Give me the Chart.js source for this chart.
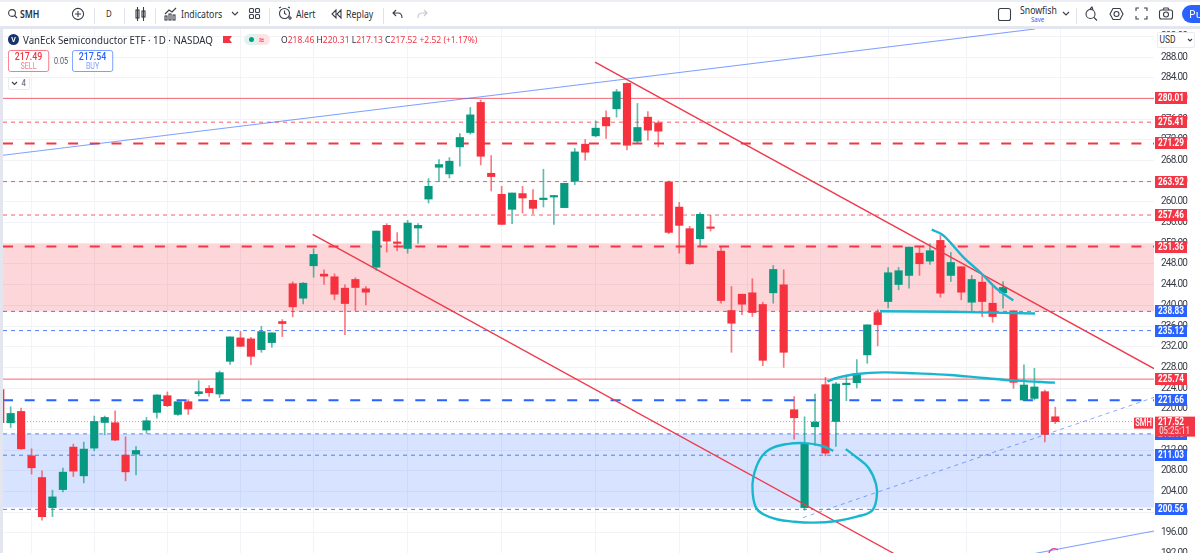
<!DOCTYPE html>
<html>
<head>
<meta charset="utf-8">
<script src="https://cdn.jsdelivr.net/npm/chart.js@4"></script>
<style>
html,body{margin:0;padding:0;background:#fff;width:1200px;height:553px;overflow:hidden;font-family:"Noto Sans",sans-serif;color:#131722}
#c{position:absolute;left:0;top:0}
.ab{position:absolute;white-space:nowrap}
.sq{transform:scaleX(.87);transform-origin:left center}
.nar{font-family:Roboto,sans-serif;transform:scaleX(.84);transform-origin:left center}
#bar{position:absolute;left:0;top:0;width:1200px;height:29px;background:#fff;box-sizing:border-box;border-top:2px solid #eceef3;border-bottom:3px solid #e3e6ee}
#lft{position:absolute;left:0;top:29px;width:3px;height:524px;background:#e3e6ee}
.sep{position:absolute;top:6px;width:1px;height:16px;background:#e0e3eb}
.t{font-size:10px;color:#2a2e39;line-height:14px}
svg{position:absolute;overflow:visible;fill:none;stroke:#3a3e49;stroke-width:1.1}
</style>
</head>
<body>
<canvas id="c" width="1200" height="567"></canvas>
<div id="lft"></div>
<div id="bar">
 <svg style="left:8px;top:7px" width="10" height="10"><circle cx="4" cy="4" r="3.4"/><path d="M6.500 6.500l2.500 2.500"/></svg>
 <div class="ab t sq" style="left:20px;top:5px;font-weight:600">SMH</div>
 <svg style="left:72px;top:6px" width="12" height="12"><circle cx="6" cy="6" r="5.6"/><path d="M3 6h6M6 3v6"/></svg>
 <div class="sep" style="left:94px"></div>
 <div class="ab t sq" style="left:106px;top:5px;font-size:9px">D</div>
 <div class="sep" style="left:124px"></div>
 <svg style="left:135px;top:5px" width="11" height="14"><rect x="1" y="3" width="3" height="8"/><rect x="7" y="4" width="3" height="6"/><path d="M2.500 0v14M8.500 0v14"/></svg>
 <div class="sep" style="left:155px"></div>
 <svg style="left:165px;top:5px" width="12" height="14"><path d="M0 7l4-4 3 2 4-4"/><rect x="0" y="9" width="2" height="4"/><rect x="4" y="7" width="2" height="6"/><rect x="8" y="8" width="2" height="5"/></svg>
 <div class="ab t sq" style="left:181px;top:5px">Indicators</div>
 <svg style="left:232px;top:10px" width="7" height="4"><path d="M0 0l3 3 3-3"/></svg>
 <svg style="left:249px;top:6px" width="11" height="12"><rect x="0.500" y="0.500" width="4" height="4" rx="1"/><rect x="6.500" y="0.500" width="4" height="4" rx="1"/><rect x="0.500" y="6.500" width="4" height="4" rx="1"/><rect x="6.500" y="6.500" width="4" height="4" rx="1"/></svg>
 <div class="sep" style="left:269px"></div>
 <svg style="left:279px;top:5px" width="12" height="14"><circle cx="5.500" cy="6.500" r="5"/><path d="M5.500 3.500v3l2 1M0 1l2-1M11 1l-2-1M9 11h4M11 9v4"/></svg>
 <div class="ab t sq" style="left:296px;top:5px">Alert</div>
 <svg style="left:331px;top:8px" width="10" height="8"><path d="M5 0L1 4l4 4zM10 0L6 4l4 4z"/></svg>
 <div class="ab t sq" style="left:346px;top:5px">Replay</div>
 <div class="sep" style="left:383px"></div>
 <svg style="left:393px;top:8px" width="9" height="8"><path d="M3 0L0 3l3 3M0 3h5c3 0 4 2 4 5"/></svg>
 <svg style="left:418px;top:8px;stroke:#c5c8d0" width="9" height="8"><path d="M6 0l3 3-3 3M9 3H4C1 3 0 5 0 8"/></svg>
 <svg style="left:998px;top:6px" width="13" height="13"><rect x="0.500" y="0.500" width="12" height="12" rx="2"/></svg>
 <div class="ab sq" style="left:1020px;top:1px;font-size:10px;color:#2a2e39;line-height:14px">Snowfish</div>
 <div class="ab sq" style="left:1031px;top:13px;font-size:7px;color:#2962ff;line-height:10px">Save</div>
 <svg style="left:1063px;top:10px" width="7" height="4"><path d="M0 0l3 3 3-3"/></svg>
 <div class="sep" style="left:1076px"></div>
 <svg style="left:1085px;top:5px" width="13" height="14"><circle cx="5.500" cy="7" r="4.500"/><path d="M9 10.500l3 3M5 2l2-2 1 3"/></svg>
 <svg style="left:1110px;top:6px" width="13" height="12"><path d="M3 0.500h7l3 5.500-3 5.500H3L0 6z"/><circle cx="6.500" cy="6" r="2.500"/></svg>
 <svg style="left:1136px;top:6px" width="11" height="12"><path d="M0 3V0h3M8 0h3v3M11 8v3H8M3 11H0V8"/></svg>
 <svg style="left:1159px;top:6px" width="14" height="11"><rect x="0.500" y="2" width="13" height="9" rx="2"/><circle cx="7" cy="6.500" r="2.500"/><path d="M4 2l1-2h4l1 2"/></svg>
 <div class="ab" style="left:1182px;top:3px;width:40px;height:18px;background:#2962ff;border-radius:9px;color:#fff;font-size:11px;line-height:18px;padding-left:7px;box-sizing:border-box">Pu</div>
</div>
<div class="ab" style="left:8px;top:34px;width:11px;height:11px;border-radius:50%;background:#17356b;color:#fff;font-size:7px;line-height:11px;text-align:center;font-weight:700">V</div>
<div class="ab sq" style="left:23px;top:33px;font-size:11.200px;line-height:14px;color:#2a2e39">VanEck Semiconductor ETF · 1D · NASDAQ</div>
<svg style="left:223px;top:36px;stroke:none;fill:#f23645" width="9" height="8"><path d="M0 0h9l-2.500 3.500 2.500 3.500H0z"/></svg>
<div class="ab" style="left:244px;top:34px;width:26px;height:11px;border-radius:6px;background:linear-gradient(90deg,#dff3ee 50%,#fde3e6 50%)"></div>
<div class="ab" style="left:249px;top:37px;width:5px;height:5px;border-radius:50%;background:#089981"></div>
<div class="ab" style="left:259px;top:33px;font-size:9px;line-height:13px;color:#f23645;font-weight:700">≈</div>
<div class="ab sq" id="ohlc" style="left:281px;top:33px;font-size:9.800px;line-height:14px;color:#f23645"></div>
<div class="ab nar" style="left:8px;top:50px;width:49px;height:22px;box-sizing:border-box;border:1px solid #f7707c;border-radius:3px;background:#fff;text-align:center;color:#f23645;font-size:10.500px;line-height:11px;padding-top:0;font-weight:500">217.49<br><span style="font-size:8.500px;color:#f7828c;font-weight:400;line-height:9px;display:block">SELL</span></div>
<div class="ab nar" style="left:54px;top:56px;font-size:8.500px;line-height:10px;color:#50535e">0.05</div>
<div class="ab nar" style="left:72px;top:50px;width:49px;height:22px;box-sizing:border-box;border:1px solid #6f96ff;border-radius:3px;background:#fff;text-align:center;color:#2962ff;font-size:10.500px;line-height:11px;padding-top:0;font-weight:500">217.54<br><span style="font-size:8.500px;color:#7f9fff;font-weight:400;line-height:9px;display:block">BUY</span></div>
<div class="ab nar" style="left:8px;top:77px;width:26px;height:13px;box-sizing:border-box;border:1px solid #e6e8ee;border-radius:2px;background:#fff;font-size:9px;line-height:11px;color:#50535e;padding-left:15px">4</div>
<svg style="left:12px;top:82px" width="6" height="4"><path d="M0 0l2.500 2.500L5 0"/></svg>
<div class="ab nar" style="left:1157px;top:32px;width:45px;height:16px;box-sizing:border-box;border:1px solid #e6e8ee;border-radius:2px;background:#fff;font-size:10px;line-height:14px;color:#2a2e39;padding-left:2px">USD</div>
<svg style="left:1188px;top:39px" width="4" height="3"><path d="M0 0l2 2 2-2"/></svg>
<svg style="left:1048px;top:546px;stroke:#e0409a;stroke-width:1.300" width="12" height="7"><path d="M1 7a5.500 5.500 0 0 1 9-3"/></svg>
<script>
// Candles, index 0 of each array is the clipped candle at the left edge
const firstIndex = -1;
const opens = [223.70,217.30,219.49,210.91,206.71,200.90,204.38,212.60,207.04,212.40,217.36,217.30,211.05,211.24,215.89,219.30,222.53,218.91,221.37,222.92,223.95,222.86,229.18,233.71,233.51,231.44,232.80,236.87,244.17,241.38,247.65,246.03,245.52,243.32,245.00,243.20,247.38,255.46,252.11,251.00,254.94,260.55,266.69,265.40,270.63,273.41,279.23,265.53,261.46,258.56,261.60,260.30,260.44,260.94,258.89,263.98,271.15,272.76,276.32,277.99,282.91,271.73,276.38,275.27,263.85,259.00,254.82,252.88,255.01,250.48,239.00,242.15,242.42,240.16,242.42,243.97,219.82,200.90,216.53,224.66,217.55,224.66,225.05,230.42,238.61,240.74,244.03,245.78,250.09,248.55,252.55,245.78,247.46,240.60,244.48,240.41,242.42,238.94,221.70,222.01,223.31,218.46];
const highs = [223.70,220.40,220.15,212.27,208.01,204.27,208.53,213.18,213.56,218.60,218.60,219.63,214.59,212.71,218.33,222.73,223.25,221.37,221.76,225.44,224.47,227.32,233.90,234.99,233.82,235.96,234.68,237.25,244.55,244.42,250.95,246.88,246.10,243.97,245.33,243.64,254.36,255.79,254.05,256.43,255.79,264.51,268.19,268.57,273.22,278.26,279.67,268.96,263.01,261.72,263.01,262.37,266.31,261.27,263.59,270.32,272.06,275.66,277.60,281.74,283.02,279.03,277.48,275.66,264.04,259.91,255.27,257.92,257.40,251.26,243.64,242.15,245.14,240.60,247.71,246.88,222.34,218.46,222.86,226.08,225.11,226.54,229.51,236.23,239.13,247.32,247.32,251.26,251.26,251.91,253.52,250.23,247.46,245.78,245.78,243.84,244.61,238.94,228.48,227.82,223.64,220.31];
const lows = [217.30,216.39,212.13,207.37,198.46,199.15,203.94,206.90,205.68,211.88,214.98,213.82,206.07,207.23,215.23,218.21,220.40,218.72,218.91,222.47,222.40,222.20,228.60,232.02,228.54,230.92,231.89,233.96,237.78,240.29,245.45,244.03,241.07,234.35,239.00,240.10,246.74,250.29,250.56,250.09,251.97,259.78,263.92,264.62,266.89,273.09,267.14,262.10,255.65,255.79,257.84,257.73,259.00,255.65,258.89,263.34,268.05,272.56,272.25,276.38,270.04,271.28,271.92,270.63,253.85,250.09,247.91,251.53,254.36,240.41,230.92,238.22,237.83,228.34,240.41,228.01,214.15,200.39,212.85,210.91,212.71,221.56,224.02,228.79,232.16,239.52,243.01,243.32,245.78,247.91,241.57,244.61,241.07,238.67,237.83,236.73,239.44,223.95,221.56,221.70,213.62,217.13];
const closes = [217.30,219.10,212.27,208.59,199.15,202.97,207.75,207.95,212.21,217.55,218.33,213.95,207.81,211.94,217.69,222.67,220.60,221.37,219.96,223.31,223.11,226.99,233.90,232.08,230.14,234.93,234.68,236.48,239.71,244.28,249.84,245.64,242.15,240.35,243.45,242.54,254.36,252.42,251.97,255.91,255.46,263.01,267.22,267.86,272.45,276.82,268.82,264.89,255.65,261.72,260.75,258.75,260.69,261.08,263.59,269.66,269.60,274.25,274.69,281.28,270.95,274.38,273.86,273.67,254.10,255.46,248.04,257.59,254.88,240.93,236.54,240.22,238.61,229.37,246.94,230.92,218.27,213.29,217.44,211.43,224.80,224.86,226.85,236.23,236.28,246.30,246.69,251.26,248.04,250.56,242.35,248.29,242.54,245.00,240.74,237.83,243.45,225.11,224.60,224.22,215.04,217.52];

// Axis
const yMin = 191.93, yMax = 293.42, yStep = 4;
const xMin = -0.734, xMax = 109.45;
const xGridIndices = [5,11,19,25,33,43,51,61,67,74,81,87,96,105];

// Horizontal levels
const levelValues  = [280.01,275.41,271.29,263.92,257.46,251.36,238.83,235.12,225.74,221.66,215.15,211.03,200.56];
const levelFamily  = ['red','red','red','red','red','red','blue','blue','red','blue','blue','blue','blue'];
const levelKind    = ['solid','thin','thick','thin','thin','thick','thin','thin','solid','thick','thin','thin','thin'];
const lastPrice = 217.52, lastSymbol = 'SMH', countdown = '05:25:11';

// Zones
const pinkZone = [251.9, 238.83];
const blueZone = [215.15, 200.9];

// Trend lines, each as [index, price]
const redLineA  = [[55.94,287.03],[109.45,227.76]];
const redLineB  = [[28.91,253.72],[84.64,191.93]];
const blueLineA = [[-0.73,269.02],[98.06,293.42]];
const blueLineB = [[97.77,191.93],[109.45,196.38]];
const blueDash  = [[75.85,198.96],[109.45,222.20]];

// Hand-drawn marks, each as [index, price]
const tealCircle = [[78.75,211.88],[77.64,212.85],[76.04,213.37],[74.29,213.18],[72.69,212.21],[71.73,210.27],[71.09,206.71],[71.03,203.80],[71.35,200.90],[72.05,199.62],[73.33,198.65],[74.92,198.19],[76.84,197.99],[79.08,198.32],[81.00,199.15],[82.43,200.26],[82.90,202.83],[82.84,205.43],[82.10,208.64],[81.00,210.58],[79.94,212.21]];
const tealArc  = [[78.18,225.30],[79.08,225.96],[81.00,226.73],[83.54,227.04],[86.74,226.85],[89.92,226.54],[93.11,225.96],[96.31,225.44],[99.97,225.05]];
const tealFlat = [[83.22,238.86],[89.92,238.75],[98.06,238.42]];
const tealFall = [[88.17,254.63],[89.13,253.72],[89.92,252.22],[91.19,249.32],[92.96,246.10],[94.39,243.20],[95.98,240.93]];

const RED = '#f7323f', GREEN = '#089981', TAGRED = '#f23645', TAGBLUE = '#2962ff', TEAL = '#19b7cf';
const ohlcEl = document.getElementById('ohlc');
const d = n => '<span style="color:#2a2e39">' + n + '</span>';
ohlcEl.innerHTML = d('O') + '218.46 ' + d('H') + '220.31 ' + d('L') + '217.13 ' + d('C') + '217.52 +2.52 (+1.17%)';

const pts = a => a.map(p => ({x: p[0], y: p[1]}));
const lineDs = (a, color, width, dash, order, extra) => Object.assign({
  type: 'line', data: pts(a), borderColor: color, borderWidth: width, borderDash: dash || [],
  pointRadius: 0, fill: false, order: order, tension: 0
}, extra || {});

const up = closes.map((c, i) => c >= opens[i]);
const colors = up.map(u => u ? GREEN : RED);
const idx = closes.map((_, i) => firstIndex + i);

const datasets = [];
// Zones
datasets.push(lineDs([[xMin, pinkZone[0]], [xMax, pinkZone[0]]], 'rgba(0,0,0,0)', 0, [], 20,
  {fill: {value: pinkZone[1]}, backgroundColor: 'rgba(247,50,63,0.2)'}));
datasets.push(lineDs([[xMin, blueZone[0]], [xMax, blueZone[0]]], 'rgba(0,0,0,0)', 0, [], 20,
  {fill: {value: blueZone[1]}, backgroundColor: 'rgba(41,98,255,0.18)'}));
// Levels
levelValues.forEach((v, i) => {
  const red = levelFamily[i] === 'red', k = levelKind[i];
  let color, w, dash;
  if (k === 'solid') { color = 'rgba(242,54,69,0.75)'; w = 1; dash = []; }
  else if (k === 'thick') { color = red ? '#f23645' : '#2962ff'; w = 2; dash = [10, 11.7]; }
  else { color = red ? 'rgba(242,54,69,0.8)' : 'rgba(41,98,255,0.8)'; w = 1; dash = [4, 4]; }
  datasets.push(lineDs([[xMin, v], [xMax, v]], color, w, dash, 15));
});
datasets.push(lineDs([[xMin, lastPrice], [xMax, lastPrice]], 'rgba(242,54,69,0.6)', 1, [1, 2], 15));
// Candles
datasets.push({type: 'bar', data: idx.map((x, i) => ({x, y: [lows[i], highs[i]]})), backgroundColor: up.map(u => u ? 'rgba(8,153,129,0.65)' : 'rgba(247,50,63,0.65)'), barThickness: 1, grouped: false, order: 10, borderWidth: 0});
datasets.push({type: 'bar', data: idx.map((x, i) => ({x, y: [Math.min(opens[i], closes[i]), Math.max(opens[i], closes[i])]})), backgroundColor: colors, barThickness: 7.5, grouped: false, order: 9, borderWidth: 0, minBarLength: 1.5});
// Trend lines
datasets.push(lineDs(redLineA, '#ee3a4b', 1.4, [], 5));
datasets.push(lineDs(redLineB, '#ee3a4b', 1.4, [], 5));
datasets.push(lineDs(blueLineA, 'rgba(41,98,255,0.6)', 1.1, [], 5));
datasets.push(lineDs(blueLineB, 'rgba(41,98,255,0.6)', 1.1, [], 5));
datasets.push(lineDs(blueDash, 'rgba(41,98,255,0.55)', 1, [4, 4], 5));
// Teal marks
datasets.push(lineDs(tealCircle, TEAL, 2.4, [], 2, {tension: 0.4}));
datasets.push(lineDs(tealArc, TEAL, 2.4, [], 2, {tension: 0.4}));
datasets.push(lineDs(tealFlat, TEAL, 2.4, [], 2, {tension: 0.4}));
datasets.push(lineDs(tealFall, TEAL, 2.4, [], 2, {tension: 0.4}));

const squeezed = (c, text, x, y, k) => {
  c.save();
  c.translate(x, y);
  c.scale(k, 1);
  c.fillText(text, 0, 0);
  c.restore();
};

const tagPlugin = {
  id: 'tags',
  beforeDraw(chart) { chart.ctx.letterSpacing = '-0.75px'; },
  afterDraw(chart) {
    const c = chart.ctx, y = chart.scales.y;
    c.save();
    c.letterSpacing = '0px';
    c.textBaseline = 'middle';
    c.textAlign = 'center';
    c.font = '700 10.5px Roboto, sans-serif';
    levelValues.forEach((v, i) => {
      const py = Math.round(y.getPixelForValue(v));
      c.fillStyle = levelFamily[i] === 'red' ? TAGRED : TAGBLUE;
      c.fillRect(1155, py - 6, 32, 12);
      c.fillStyle = '#fff';
      squeezed(c, v.toFixed(2), 1171, py + 0.5, 0.78);
    });
    const py = y.getPixelForValue(lastPrice);
    c.fillStyle = TAGRED;
    c.fillRect(1155, py - 5, 40, 20);
    c.fillRect(1134, py - 4, 19, 11);
    c.fillStyle = '#fff';
    squeezed(c, lastPrice.toFixed(2), 1171, py + 1, 0.78);
    c.font = '500 10px Roboto, sans-serif';
    squeezed(c, lastSymbol, 1143.5, py + 1.5, 0.76);
    c.fillStyle = '#fbc9cd';
    squeezed(c, countdown, 1174.5, py + 10, 0.78);
    c.restore();
  }
};

new Chart(document.getElementById('c'), {
  type: 'bar',
  data: {datasets},
  plugins: [tagPlugin],
  options: {
    responsive: false, animation: false, devicePixelRatio: 1,
    layout: {autoPadding: false, padding: {left: 3, top: 29, right: 0, bottom: 0}},
    plugins: {legend: {display: false}, tooltip: {enabled: false}},
    scales: {
      x: {
        type: 'linear', min: xMin, max: xMax, offset: false,
        afterBuildTicks(s) { s.ticks = xGridIndices.map(v => ({value: v})); },
        afterFit(s) { s.height = 0; },
        grid: {color: '#f2f3f7', lineWidth: 1, drawTicks: false},
        border: {display: false},
        ticks: {display: false, padding: 0}
      },
      y: {
        position: 'right', min: yMin, max: yMax,
        afterFit(s) { s.width = 46; },
        grid: {color: '#f2f3f7', lineWidth: 1, drawTicks: false},
        border: {display: false},
        ticks: {
          stepSize: yStep, includeBounds: false, padding: 7, color: '#3a3e49',
          font: {family: 'Roboto, sans-serif', size: 10},
          callback: v => v.toFixed(2)
        }
      }
    }
  }
});
</script>
</body>
</html>
